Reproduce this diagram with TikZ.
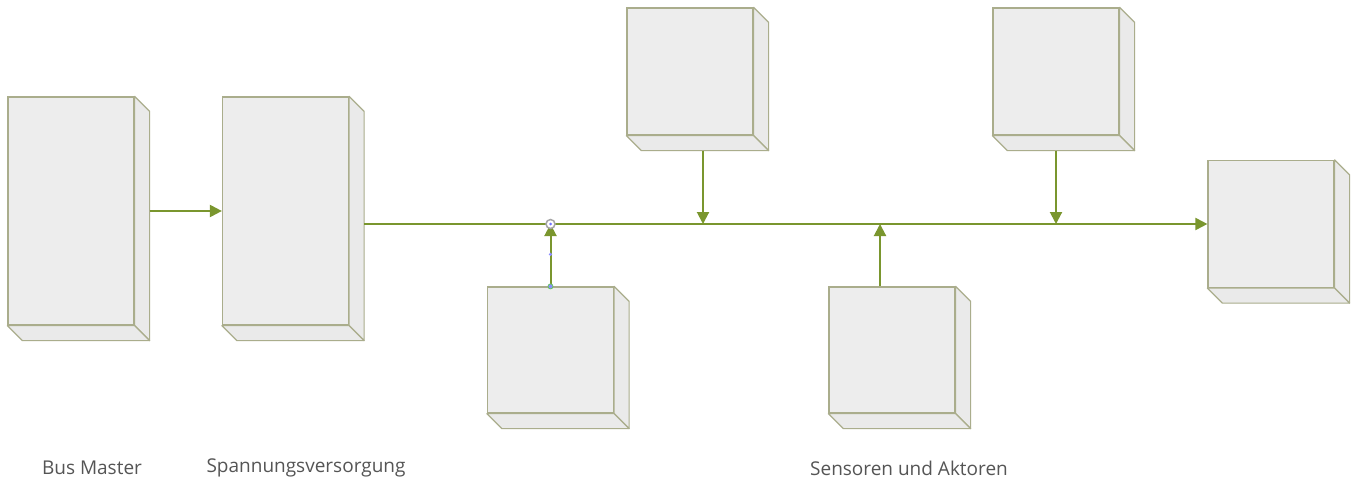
\documentclass[tikz,border=0pt]{standalone}
\usepackage{fontspec}
\setmainfont{Open Sans}
\usetikzlibrary{arrows.meta,calc}
\definecolor{boxfill}{HTML}{EDEDED}
\definecolor{boxside}{HTML}{EAEAEA}
\definecolor{boxline}{HTML}{AAAD8C}
\definecolor{conn}{HTML}{7A962E}
\definecolor{lbl}{HTML}{555555}
\tikzset{
  cube/.style={draw=boxline, fill=boxfill, line width=1.2pt, inner sep=0pt, minimum width=126pt},
  depth/.style={draw=boxline, fill=boxside, line width=1.2pt, line join=round},
  conn/.style={draw=conn, line width=2pt, -{Triangle[length=12pt,width=12pt]}},
  lab/.style={text=lbl, font=\fontsize{19}{22}\selectfont, inner sep=0pt}
}
\begin{document}
\begin{tikzpicture}[x=1pt,y=-1pt]
\useasboundingbox[fill=white] (0,0) rectangle (1359,484);
% front faces
\node[cube, minimum height=228pt] (bm) at (71,211) {};
\node[cube, minimum height=228pt] (sv) at (285.5,211) {};
\node[cube, minimum height=127pt] (b3) at (690,71.5) {};
\node[cube, minimum height=126pt] (b4) at (550.5,350) {};
\node[cube, minimum height=126pt] (b5) at (892,350) {};
\node[cube, minimum height=127pt] (b6) at (1056,71.5) {};
\node[cube, minimum height=127pt] (b7) at (1271,224) {};
% depth faces
\foreach \n in {bm,sv,b3,b4,b5,b6,b7}{
  \draw[depth] (\n.north east) -- ++(15,15) -- ($(\n.south east)+(15,15)$) -- (\n.south east) -- cycle;
  \draw[depth] (\n.south west) -- ++(15,15) -- ($(\n.south east)+(15,15)$) -- (\n.south east) -- cycle;
}
% connector end points
\coordinate (busstart) at ($(sv.east)+(15,13)$);
\coordinate (d3) at ($(b3.south)+(13,15)$);
\coordinate (d6) at ($(b6.south)+(0,15)$);
\coordinate (u5) at ($(b5.north)+(-12,0)$);
% connectors
\draw[conn] ([xshift=15]bm.east) -- (sv.west);
\draw[conn] (busstart) -- (busstart -| b7.west);
\draw[conn] (d3) -- (d3 |- busstart);
\draw[conn] (d6) -- (d6 |- busstart);
\draw[conn] (b4.north) -- (b4.north |- busstart);
\draw[conn] (u5) -- (u5 |- busstart);
% selection markers
\draw[gray!70, line width=1.5pt, fill=white] (b4.north |- busstart) circle (4.5pt);
\fill[blue!55] (b4.north |- busstart) circle (1.5pt);
\fill[blue!45] ($(b4.north)+(0,-32)$) circle (1.8pt);
\draw[green!60!black!60, line width=0.8pt, fill=blue!45] (b4.north) circle (2.5pt);
% labels
\node[lab] (t1) at (92,468) {Bus Master};
\node[lab] (t2) at (306,468) {Spannungsversorgung};
\node[lab] (t3) at (909,468) {Sensoren und Aktoren};
\end{tikzpicture}
\end{document}
